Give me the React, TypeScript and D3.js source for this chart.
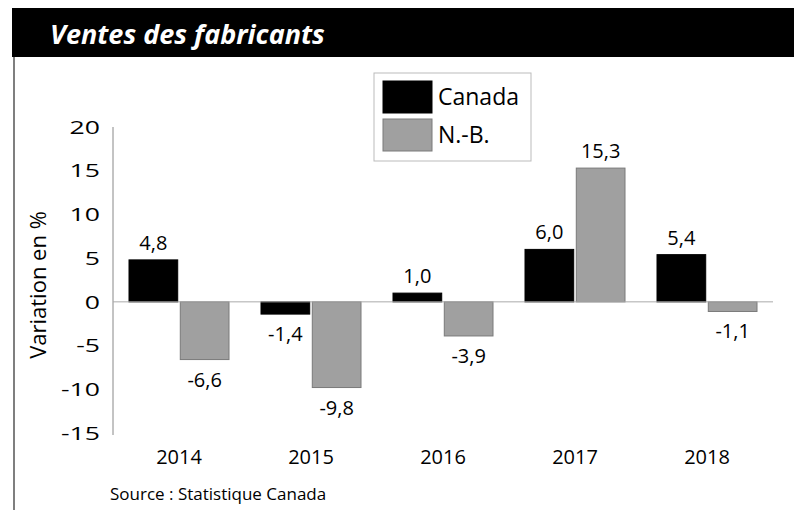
import { useEffect, useRef } from 'react';
import * as d3 from 'd3';

const years = ['2014', '2015', '2016', '2017', '2018'];
const seriesNames = ['Canada', 'N.-B.'];
const canada = [4.8, -1.4, 1.0, 6.0, 5.4];
const nb = [-6.6, -9.8, -3.9, 15.3, -1.1];
const yTicks = [20, 15, 10, 5, 0, -5, -10, -15];

const W = 794;
const H = 510;
const FONT = '"Open Sans", "DejaVu Sans", sans-serif';
const fills = ['#000000', '#a0a0a0'];
const strokes = ['#000000', '#7a7a7a'];

const App = () => {
  const ref = useRef<SVGSVGElement>(null);

  useEffect(() => {
    const svg = d3.select(ref.current);
    svg.selectAll('*').remove();

    // header bar + frame line
    svg.append('rect').attr('x', 12).attr('y', 8).attr('width', W - 12).attr('height', 49).attr('fill', '#000');
    svg
      .append('text')
      .attr('x', 50)
      .attr('y', 44)
      .attr('fill', '#fff')
      .style('font-family', FONT)
      .style('font-weight', 700)
      .style('font-style', 'italic')
      .style('font-size', '27px')
      .text('Ventes des fabricants');
    svg.append('line').attr('x1', 14).attr('x2', 14).attr('y1', 57).attr('y2', H).attr('stroke', '#555').attr('stroke-width', 1.5);

    const y = d3.scaleLinear().domain([-15, 20]).range([433, 127]);
    const x = d3.scaleBand().domain(years).range([113, 773]).padding(0);
    const inner = d3.scaleBand().domain(seriesNames).range([16, x.bandwidth() - 16]).paddingInner(0.05);

    // y axis
    svg.append('line').attr('x1', 113).attr('x2', 113).attr('y1', y(20)).attr('y2', y(-15) + 2).attr('stroke', '#888');
    // tick digits in the original are a wide face, so stretch horizontally
    svg
      .selectAll('.ytick')
      .data(yTicks)
      .enter()
      .append('text')
      .attr('class', 'ytick')
      .attr('transform', (d) => `translate(100,${y(d)}) scale(1.4,1)`)
      .attr('dy', '0.35em')
      .attr('text-anchor', 'end')
      .style('font-family', FONT)
      .style('font-size', '19px')
      .text((d) => String(d));

    svg
      .append('text')
      .attr('transform', 'translate(46,285) rotate(-90)')
      .attr('text-anchor', 'middle')
      .style('font-family', FONT)
      .style('font-size', '22px')
      .text('Variation en %');

    // bars
    const data = years.map((yr, i) => ({ year: yr, values: [canada[i], nb[i]] }));
    const groups = svg
      .selectAll('.grp')
      .data(data)
      .enter()
      .append('g')
      .attr('class', 'grp')
      .attr('transform', (d) => `translate(${x(d.year)},0)`);

    groups.each((d: any, i: number, nodes: any) => {
      const g = d3.select(nodes[i]);
      d.values.forEach((v: number, s: number) => {
        const bx = inner(seriesNames[s]) as number;
        g.append('rect')
          .attr('x', bx)
          .attr('y', Math.min(y(v), y(0)))
          .attr('width', inner.bandwidth())
          .attr('height', Math.abs(y(v) - y(0)))
          .attr('fill', fills[s])
          .attr('stroke', strokes[s])
          .attr('stroke-width', 1);
        g.append('text')
          .attr('x', bx + inner.bandwidth() / 2)
          .attr('y', v >= 0 ? y(v) - 10 : y(v) + 27)
          .attr('text-anchor', 'middle')
          .style('font-family', FONT)
          .style('font-size', '20px')
          .text(d3.format('.1f')(v).replace('.', ',').replace('−', '-'));
      });
    });

    // zero line
    svg.append('line').attr('x1', 113).attr('x2', 773).attr('y1', y(0)).attr('y2', y(0)).attr('stroke', '#aaa').attr('stroke-width', 1);

    // year labels
    svg
      .selectAll('.xlab')
      .data(years)
      .enter()
      .append('text')
      .attr('x', (d) => (x(d) as number) + x.bandwidth() / 2)
      .attr('y', 464)
      .attr('text-anchor', 'middle')
      .style('font-family', FONT)
      .style('font-size', '20px')
      .text((d) => d);

    // legend
    const lg = svg.append('g');
    lg.append('rect').attr('x', 374).attr('y', 73).attr('width', 157).attr('height', 88).attr('fill', '#fff').attr('stroke', '#bbb');
    seriesNames.forEach((name, s) => {
      lg.append('rect')
        .attr('x', 383)
        .attr('y', 81 + s * 38)
        .attr('width', 49)
        .attr('height', 32)
        .attr('fill', fills[s])
        .attr('stroke', strokes[s]);
      lg.append('text')
        .attr('x', 438)
        .attr('y', 97 + s * 38)
        .attr('dy', '0.35em')
        .style('font-family', FONT)
        .style('font-size', '23px')
        .text(name);
    });

    svg
      .append('text')
      .attr('x', 110)
      .attr('y', 500)
      .style('font-family', FONT)
      .style('font-size', '17px')
      .text('Source : Statistique Canada');
  }, []);

  return <svg ref={ref} width={W} height={H} style={{ position: 'absolute', left: 0, top: 0, background: '#fff' }} />;
};

export default App;
